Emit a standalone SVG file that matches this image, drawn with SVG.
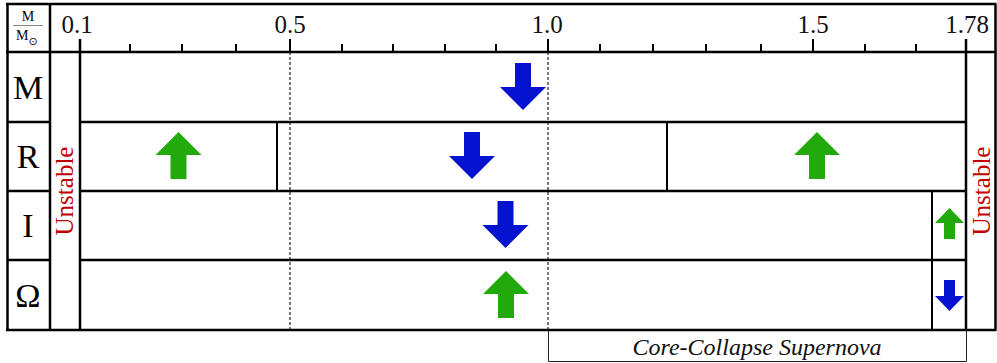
<svg xmlns="http://www.w3.org/2000/svg" width="997" height="363" viewBox="0 0 997 363">
<style>
.g{stroke:#000;stroke-width:2.5;fill:none}
.t{stroke:#000;stroke-width:2;fill:none}
.d{stroke:#333;stroke-width:1.3;stroke-dasharray:3,2;fill:none}
.th{stroke:#222;stroke-width:1;fill:none}
.num{font-size:25px;fill:#111;text-anchor:middle}
.lab{font-size:34px;fill:#000;text-anchor:middle}
.uns{font-size:25px;fill:#c00000;text-anchor:middle}
.blue{fill:#0512d0}
.green{fill:#22aa0c}
</style>
<defs>
<path id="down" d="M-8,0 H8 V24 H23 L0,47 L-23,24 H-8 Z"/>
<path id="up" d="M-8,47 H8 V23 H23 L0,0 L-23,23 H-8 Z"/>
<path id="sdown" d="M-5.5,0 H5.5 V16 H14.5 L0,31 L-14.5,16 H-5.5 Z"/>
<path id="sup" d="M-5.5,31 H5.5 V15 H14.5 L0,0 L-14.5,15 H-5.5 Z"/>
</defs>
<rect width="997" height="363" fill="#fff"/>
<g id="connectors">
<path class="d" d="M290,52 V330 M548,52 V330"/>
<path class="g" d="M6,4 H996.5 M6,52 H996.5 M6,330 H996.5 M7.5,4 V330 M50,4 V330 M80,39 V330 M966,39 V330 M995.5,4 V330"/>
<path class="g" d="M7,122 H50 M7,191 H50 M7,260 H50 M80,122 H966 M80,191 H966 M80,260 H966"/>
<path class="t" d="M290,39 V52 M548,39 V52 M813,39 V52 M130,44 V52 M182,44 V52 M236,44 V52 M342,44 V52 M393,44 V52 M445,44 V52 M496,44 V52 M600,44 V52 M653,44 V52 M706,44 V52 M761,44 V52 M865,44 V52 M916,44 V52"/>
<path class="t" d="M277,122 V191 M667,122 V191 M932,191 V330"/>
<path class="th" d="M548.5,330 V361.5 H966.5 V330"/>
</g>
<g id="header" font-family="Liberation Serif, Tinos, Times New Roman, serif">
<text x="28" y="21" font-size="14" text-anchor="middle">M</text>
<line x1="13" y1="25.5" x2="43" y2="25.5" stroke="#888" stroke-width="1"/>
<text x="16" y="40" font-size="14">M<tspan font-family="DejaVu Sans, sans-serif" font-size="11" dy="5">⊙</tspan></text>
<text class="num" x="77" y="33">0.1</text>
<text class="num" x="290" y="33">0.5</text>
<text class="num" x="547" y="33">1.0</text>
<text class="num" x="813" y="33">1.5</text>
<text class="num" x="967" y="33">1.78</text>
</g>
<g id="row-M" font-family="Liberation Serif, Tinos, Times New Roman, serif"><text class="lab" x="28" y="99">M</text><use href="#down" class="blue" x="523" y="63"/></g>
<g id="row-R" font-family="Liberation Serif, Tinos, Times New Roman, serif"><text class="lab" x="28" y="168">R</text><use href="#up" class="green" x="178.5" y="132"/><use href="#down" class="blue" x="472" y="132"/><use href="#up" class="green" x="817" y="132"/></g>
<g id="row-I" font-family="Liberation Serif, Tinos, Times New Roman, serif"><text class="lab" x="28" y="237">I</text><use href="#down" class="blue" x="505.5" y="201"/><use href="#sup" class="green" x="949.5" y="208"/></g>
<g id="row-Omega" font-family="Liberation Serif, Tinos, Times New Roman, serif"><text class="lab" x="28" y="307">Ω</text><use href="#up" class="green" x="506" y="271"/><use href="#sdown" class="blue" x="949.5" y="280"/></g>
<g id="unstable-left" font-family="Liberation Serif, Tinos, Times New Roman, serif"><text class="uns" transform="translate(73,191) rotate(-90)">Unstable</text></g>
<g id="unstable-right" font-family="Liberation Serif, Tinos, Times New Roman, serif"><text class="uns" transform="translate(990,191) rotate(-90)">Unstable</text></g>
<g id="supernova" font-family="Liberation Serif, Tinos, Times New Roman, serif"><text x="757" y="355" font-style="italic" font-size="24" text-anchor="middle" fill="#111">Core-Collapse Supernova</text></g>
</svg>
